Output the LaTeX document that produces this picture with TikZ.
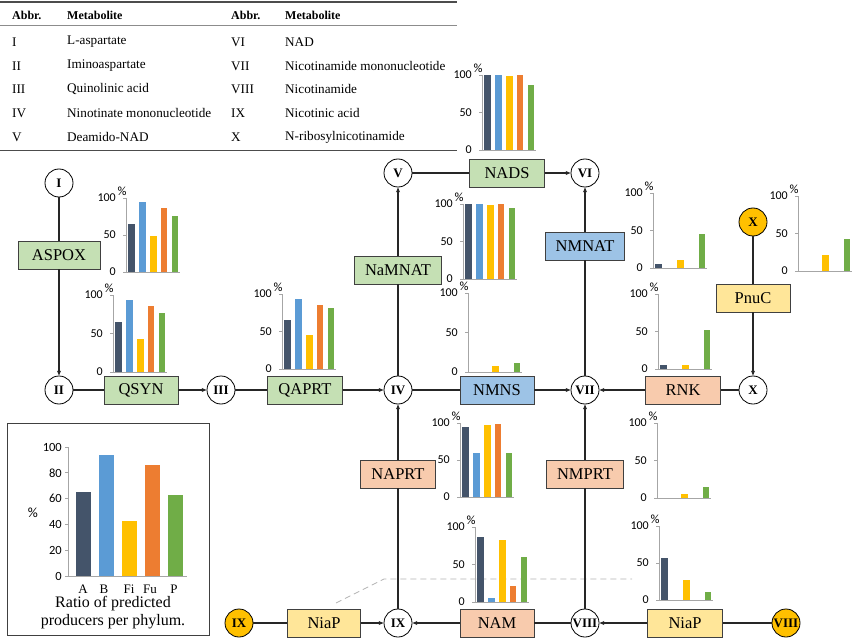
\documentclass[tikz,border=0pt]{standalone}
\usepackage{fontspec}
\setmainfont{Liberation Serif}
\newfontfamily\chartfont{Carlito}
\usetikzlibrary{arrows.meta}
\definecolor{cA}{HTML}{44546A}
\definecolor{cB}{HTML}{5B9BD5}
\definecolor{cFi}{HTML}{FFC000}
\definecolor{cFu}{HTML}{ED7D31}
\definecolor{cP}{HTML}{70AD47}
\colorlet{barc1}{cA}
\colorlet{barc2}{cB}
\colorlet{barc3}{cFi}
\colorlet{barc4}{cFu}
\colorlet{barc5}{cP}
\definecolor{fgreen}{HTML}{C5E0B4}
\definecolor{fblue}{HTML}{9DC3E6}
\definecolor{fsalmon}{HTML}{F8CBAD}
\definecolor{fyellow}{HTML}{FFE699}
\definecolor{boxline}{HTML}{404040}
\definecolor{axgray}{HTML}{A6A6A6}
\newcommand{\minichart}[8]{%
  \pgfmathsetmacro{\chH}{#2-#3}%
  \draw[chaxis] (#1,#3) -- (#1,#2) -- ++(54,0);
  \foreach \t in {0,50,100} {
    \draw[chaxis] (#1,{#2-\t*\chH/100}) -- ++(-3,0);
    \node[ticklbl] at (#1-10,{#2-\t*\chH/100}) {\t};
  }
  \node[pctlbl] at (#1-4,#3-7) {\%};
  \foreach \v [count=\i] in {#4,#5,#6,#7,#8} {
    \ifdim \v pt>0pt
      \fill[fill=barc\i] ({#1+2.3+10.8*(\i-1)},#2) rectangle ++(6.7,{-\v*\chH/100});
    \fi
  }
}
\begin{document}
\begin{tikzpicture}[x=1pt,y=-1pt,
  met/.style={circle,draw=black,line width=0.8pt,fill=white,minimum size=28pt,inner sep=0pt,font=\fontsize{13}{13}\selectfont\bfseries},
  mety/.style={met,fill=cFi},
  enz/.style={draw=boxline,line width=0.9pt,minimum height=28pt,inner sep=0pt,font=\fontsize{16.5}{16.5}\selectfont},
  eg/.style={enz,fill=fgreen},
  eb/.style={enz,fill=fblue},
  es/.style={enz,fill=fsalmon},
  ey/.style={enz,fill=fyellow},
  conn/.style={draw=black!85,line width=1.1pt},
  arr/.style={conn,-{Stealth[length=5pt,width=4pt]}},
  chaxis/.style={draw=axgray,line width=0.8pt},
  ticklbl/.style={anchor=east,inner sep=0pt,font=\chartfont\fontsize{12}{12}\selectfont},
  pctlbl/.style={inner sep=0pt,font=\chartfont\fontsize{12.5}{12.5}\selectfont},
  tabtxt/.style={anchor=west,inner sep=0pt,font=\fontsize{13.2}{13.2}\selectfont},
  tabhd/.style={anchor=west,inner sep=0pt,font=\fontsize{12}{12}\selectfont\bfseries},
  lgtxt/.style={inner sep=0pt,font=\fontsize{13}{13}\selectfont}
]
\useasboundingbox (0,0) rectangle (854,639);

% ---------- table ----------
\draw[line width=1.5pt,black!70] (0,2) -- (457,2);
\draw[line width=0.7pt,black!45] (0,25) -- (457,25);
\draw[line width=1pt,black!70] (0,151) -- (457,151);
\node[tabhd] (h1) at (12,15) {Abbr.};
\node[tabhd] (h2) at (67,15) {Metabolite};
\node[tabhd] (h3) at (231,15) {Abbr.};
\node[tabhd] (h4) at (285,15) {Metabolite};
\foreach \a/\m/\b/\n/\y [count=\k] in {I/L-aspartate/VI/NAD/42,
  II/Iminoaspartate/VII/Nicotinamide mononucleotide/66,
  III/Quinolinic acid/VIII/Nicotinamide/89,
  IV/Ninotinate mononucleotide/IX/Nicotinic acid/113,
  V/Deamido-NAD/X/N-ribosylnicotinamide/137} {
  \node[tabtxt] (ta\k) at (12,\y) {\a};
  \node[tabtxt] (tm\k) at (67,\y) {\m};
  \node[tabtxt] (tb\k) at (231,\y) {\b};
  \node[tabtxt] (tn\k) at (285,\y) {\n};
}

% ---------- dashed guide ----------
\draw[gray!60,line width=0.8pt,dash pattern=on 6pt off 4pt] (336,603) -- (384,579) -- (632,579);

% ---------- mini charts ----------
\minichart{126}{272}{198}{65}{94}{49}{86}{76}
\minichart{113}{372}{295}{65}{94}{43}{86}{76}
\minichart{282}{369}{294}{65}{94}{46}{86}{81}
\minichart{482}{150}{75}{100}{100}{99}{100}{87}
\minichart{463}{279}{204}{100}{100}{99}{100}{95}
\minichart{468}{372}{293}{0}{0}{8}{0}{11}
\minichart{653}{268}{193}{5}{0}{11}{0}{45}
\minichart{798}{271}{196}{0}{0}{22}{0}{42}
\minichart{658}{369}{294}{5}{0}{5}{0}{52}
\minichart{460}{497}{423}{95}{60}{97}{99}{60}
\minichart{475}{602}{527}{87}{5}{83}{21}{60}
\minichart{657}{498}{423}{0}{0}{6}{0}{15}
\minichart{659}{600}{526}{57}{0}{27}{0}{11}

% ---------- metabolites ----------
\node[met] (I) at (59,183) {I};
\node[met] (II) at (59,390) {II};
\node[met] (III) at (221,390) {III};
\node[met] (IV) at (398,390) {IV};
\node[met] (V) at (398,173) {V};
\node[met] (VI) at (585,173) {VI};
\node[met] (VII) at (585,390) {VII};
\node[met] (Xw) at (753,390) {X};
\node[mety] (Xy) at (753,222) {X};
\node[met] (IX) at (398,623) {IX};
\node[met] (VIII) at (585,623) {VIII};
\node[mety] (IXy) at (239,623) {IX};
\node[mety] (VIIIy) at (786,623) {VIII};

% ---------- enzymes ----------
\node[eg,minimum width=82pt] (ASPOX) at (59,255) {ASPOX};
\node[eg,minimum width=74pt] (QSYN) at (141,390) {QSYN};
\node[eg,minimum width=75pt] (QAPRT) at (305,390) {QAPRT};
\node[eg,minimum width=87pt] (NaMNAT) at (398,270) {NaMNAT};
\node[eg,minimum width=75pt] (NADS) at (507,173) {NADS};
\node[eb,minimum width=79pt] (NMNAT) at (585,246) {NMNAT};
\node[eb,minimum width=74pt] (NMNS) at (497,390) {NMNS};
\node[es,minimum width=75pt] (RNK) at (683,390) {RNK};
\node[ey,minimum width=74pt] (PnuC) at (753,298) {PnuC};
\node[es,minimum width=75pt] (NAPRT) at (398,474) {NAPRT};
\node[es,minimum width=77pt] (NMPRT) at (585,474) {NMPRT};
\node[es,minimum width=74pt] (NAM) at (497,623) {NAM};
\node[ey,minimum width=73pt] (NiaPL) at (324,623) {NiaP};
\node[ey,minimum width=75pt] (NiaPR) at (685,623) {NiaP};

% ---------- connectors ----------
\draw[conn] (I) -- (ASPOX);   \draw[arr] (ASPOX) -- (II);
\draw[conn] (II) -- (QSYN);   \draw[arr] (QSYN) -- (III);
\draw[conn] (III) -- (QAPRT); \draw[arr] (QAPRT) -- (IV);
\draw[conn] (IV) -- (NaMNAT); \draw[arr] (NaMNAT) -- (V);
\draw[conn] (V) -- (NADS);    \draw[arr] (NADS) -- (VI);
\draw[conn] (IV) -- (NMNS);   \draw[arr] (NMNS) -- (VII);
\draw[conn] (VII) -- (NMNAT); \draw[arr] (NMNAT) -- (VI);
\draw[conn] (Xw) -- (RNK);    \draw[arr] (RNK) -- (VII);
\draw[conn] (Xy) -- (PnuC);   \draw[arr] (PnuC) -- (Xw);
\draw[conn] (IX) -- (NAPRT);  \draw[arr] (NAPRT) -- (IV);
\draw[conn] (VIII) -- (NMPRT);\draw[arr] (NMPRT) -- (VII);
\draw[conn] (VIII) -- (NAM);  \draw[arr] (NAM) -- (IX);
\draw[conn] (IXy) -- (NiaPL); \draw[arr] (NiaPL) -- (IX);
\draw[conn] (VIIIy) -- (NiaPR); \draw[arr] (NiaPR) -- (VIII);

% ---------- legend ----------
\node[draw=boxline,line width=0.9pt,minimum width=202pt,minimum height=212pt,inner sep=0pt] (legend) at (108,529) {};
\draw[chaxis] (68,447) -- (68,576) -- (187,576);
\foreach \t in {0,20,40,60,80,100} {
  \draw[chaxis] (68,{576-\t*1.29}) -- ++(-3,0);
  \node[ticklbl,font=\chartfont\fontsize{12.5}{12.5}\selectfont] at (62,{576-\t*1.29}) {\t};
}
\node[pctlbl,font=\chartfont\fontsize{14}{14}\selectfont] (lgpct) at (33,513) {\%};
\foreach \v/\xx [count=\i] in {65/76,94/99,43/122,86/145,63/168} {
  \fill[fill=barc\i] (\xx,576) rectangle ++(15,{-\v*1.29});
}
\foreach \l/\xx in {A/83,B/104,Fi/129,Fu/150,P/174} {
  \node[lgtxt] at (\xx,589) {\l};
}
\node[lgtxt,font=\fontsize{16}{16}\selectfont] (lg1) at (113,604) {Ratio of predicted};
\node[lgtxt,font=\fontsize{16}{16}\selectfont] (lg2) at (113,622) {producers per phylum.};
\end{tikzpicture}
\end{document}
